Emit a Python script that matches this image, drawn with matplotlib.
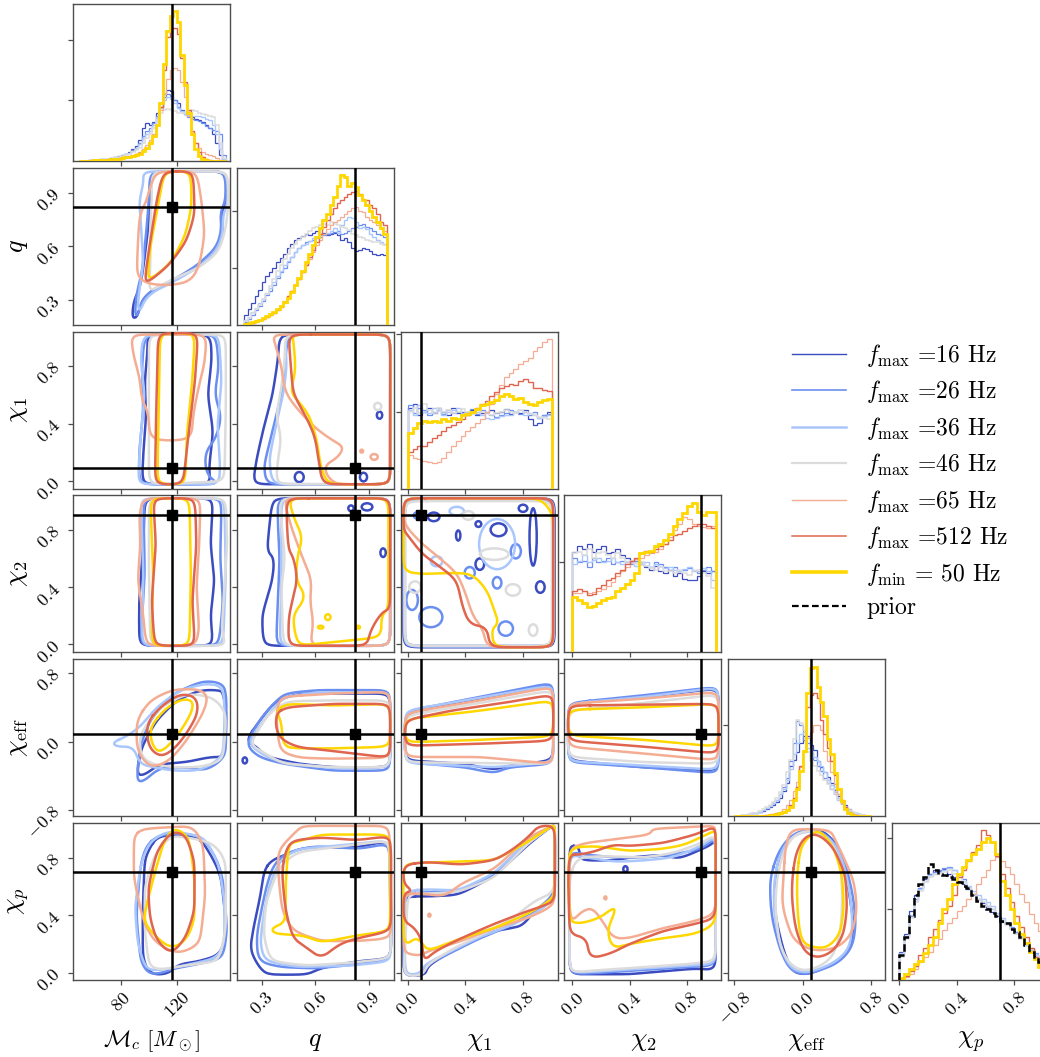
import numpy as np
import matplotlib.pyplot as plt
from matplotlib.lines import Line2D
from matplotlib.patches import Ellipse

plt.rcParams.update({
    "font.family": "serif",
    "font.serif": ["cmr10"],
    "mathtext.fontset": "cm",
    "axes.unicode_minus": False,
    "axes.formatter.use_mathtext": True,
})

# runs, in plotting/legend order
series_labels = [r"$f_{\rm max}$ =16 Hz", r"$f_{\rm max}$ =26 Hz", r"$f_{\rm max}$ =36 Hz",
                 r"$f_{\rm max}$ =46 Hz", r"$f_{\rm max}$ =65 Hz", r"$f_{\rm max}$ =512 Hz",
                 r"$f_{\rm min}$ = 50 Hz"]
series_colors = ["#3b4cc0", "#6b8ff0", "#aac7fd", "#dddcdc", "#f4ad92", "#e0654f", "#ffd700"]
hist_lw = [0.9, 0.9, 1.0, 1.1, 0.9, 1.0, 2.0]
legend_lw = [1.0, 1.2, 1.8, 1.6, 1.0, 1.1, 2.6]

axis_labels = [r"$\mathcal{M}_c\ [M_\odot]$", r"$q$", r"$\chi_1$", r"$\chi_2$",
               r"$\chi_{\rm eff}$", r"$\chi_p$"]
label_sizes = [16.5, 19, 19, 19, 19, 19]
axis_limits = [(45.7, 158.0), (0.16, 1.04), (-0.05, 1.04), (-0.056, 1.04), (-0.87, 0.96), (-0.05, 1.04)]
axis_ticks = [[80, 120], [0.3, 0.6, 0.9], [0.0, 0.4, 0.8], [0.0, 0.4, 0.8], [-0.8, 0.0, 0.8], [0.0, 0.4, 0.8]]
axis_ticklabels = [["80", "120"], ["0.3", "0.6", "0.9"], ["0.0", "0.4", "0.8"],
                   ["0.0", "0.4", "0.8"], ["-0.8", "0.0", "0.8"], ["0.0", "0.4", "0.8"]]
density_ticks = [[1, 2], [1, 2], [1, 2], [1], [1], [1, 2]]
truths = [116.4, 0.82, 0.09, 0.90, 0.09, 0.70]

# ---- 1D marginals (density), one list per run ----
mc_edges = np.linspace(50, 155, 43)
mc_hist = [
    [0, 0, 0.005, 0.01, 0.01, 0.015, 0.02, 0.03, 0.04, 0.05, 0.06, 0.08, 0.1, 0.12, 0.15, 0.2, 0.25, 0.35, 0.55, 0.62,
     0.6, 0.65, 0.8, 0.95, 1.1, 1.18, 1.15, 1.0, 0.95, 0.85, 0.78, 0.75, 0.72, 0.7, 0.68, 0.65, 0.6, 0.55, 0.45, 0.3, 0.1, 0.02],
    [0, 0, 0.005, 0.01, 0.01, 0.015, 0.02, 0.03, 0.04, 0.05, 0.06, 0.07, 0.09, 0.11, 0.14, 0.18, 0.22, 0.3, 0.42, 0.5,
     0.55, 0.62, 0.75, 0.9, 1.05, 1.1, 1.08, 1.0, 0.9, 0.82, 0.78, 0.72, 0.7, 0.68, 0.66, 0.62, 0.58, 0.55, 0.52, 0.5, 0.45, 0.1],
    [0, 0, 0.005, 0.01, 0.015, 0.02, 0.025, 0.03, 0.04, 0.05, 0.06, 0.07, 0.09, 0.11, 0.13, 0.17, 0.21, 0.28, 0.38, 0.45,
     0.5, 0.6, 0.72, 0.88, 1.0, 1.05, 1.02, 0.95, 0.88, 0.82, 0.78, 0.76, 0.75, 0.75, 0.74, 0.72, 0.7, 0.68, 0.6, 0.45, 0.2, 0.03],
    [0, 0, 0.005, 0.01, 0.015, 0.02, 0.025, 0.03, 0.04, 0.05, 0.06, 0.07, 0.08, 0.1, 0.12, 0.15, 0.18, 0.22, 0.3, 0.38,
     0.45, 0.55, 0.68, 0.8, 0.85, 0.86, 0.84, 0.82, 0.8, 0.8, 0.8, 0.82, 0.84, 0.83, 0.8, 0.78, 0.76, 0.74, 0.72, 0.6, 0.3, 0.05],
    [0, 0, 0.005, 0.01, 0.01, 0.015, 0.02, 0.02, 0.03, 0.03, 0.04, 0.05, 0.06, 0.07, 0.08, 0.1, 0.12, 0.15, 0.2, 0.26,
     0.35, 0.45, 0.6, 0.85, 1.1, 1.35, 1.5, 1.53, 1.5, 1.3, 1.05, 0.75, 0.45, 0.3, 0.22, 0.15, 0.12, 0.1, 0.08, 0.05, 0.02, 0],
    [0, 0, 0.005, 0.005, 0.01, 0.01, 0.015, 0.02, 0.02, 0.03, 0.03, 0.04, 0.05, 0.06, 0.07, 0.09, 0.11, 0.13, 0.17, 0.22,
     0.3, 0.42, 0.6, 0.9, 1.5, 2.05, 2.2, 2.2, 2.1, 1.7, 1.3, 0.85, 0.5, 0.3, 0.15, 0.07, 0.03, 0.01, 0, 0, 0, 0],
    [0, 0, 0.005, 0.005, 0.01, 0.01, 0.015, 0.02, 0.02, 0.03, 0.03, 0.04, 0.05, 0.06, 0.07, 0.08, 0.1, 0.12, 0.16, 0.22,
     0.3, 0.42, 0.6, 0.95, 1.6, 2.15, 2.4, 2.47, 2.3, 1.75, 1.25, 0.8, 0.45, 0.2, 0.08, 0.03, 0.01, 0, 0, 0, 0, 0],
]

q_edges = np.linspace(0.2, 1.0, 41)
q_hist = [
    [0.18, 0.28, 0.38, 0.5, 0.62, 0.75, 0.85, 0.92, 1.0, 1.1, 1.18, 1.25, 1.35, 1.42, 1.5, 1.52, 1.56, 1.6, 1.58, 1.62,
     1.65, 1.6, 1.62, 1.58, 1.6, 1.62, 1.58, 1.5, 1.52, 1.45, 1.35, 1.3, 1.32, 1.35, 1.33, 1.3, 1.25, 1.22, 1.24, 1.22],
    [0.05, 0.1, 0.18, 0.26, 0.33, 0.42, 0.52, 0.6, 0.7, 0.82, 0.92, 1.0, 1.1, 1.2, 1.28, 1.35, 1.4, 1.45, 1.48, 1.5,
     1.52, 1.55, 1.58, 1.6, 1.62, 1.63, 1.65, 1.6, 1.62, 1.65, 1.7, 1.72, 1.75, 1.78, 1.72, 1.7, 1.65, 1.6, 1.58, 1.55],
    [0.08, 0.14, 0.22, 0.3, 0.38, 0.46, 0.56, 0.65, 0.75, 0.85, 0.95, 1.05, 1.12, 1.2, 1.28, 1.35, 1.4, 1.42, 1.48, 1.52,
     1.55, 1.58, 1.6, 1.62, 1.65, 1.7, 1.62, 1.75, 1.85, 1.9, 1.88, 1.8, 1.7, 1.72, 1.68, 1.6, 1.55, 1.5, 1.45, 1.42],
    [0.06, 0.12, 0.2, 0.28, 0.35, 0.45, 0.55, 0.68, 0.8, 0.95, 1.05, 1.15, 1.25, 1.35, 1.42, 1.5, 1.55, 1.6, 1.65, 1.7,
     1.72, 1.75, 1.78, 1.76, 1.8, 1.78, 1.75, 1.72, 1.7, 1.66, 1.6, 1.58, 1.55, 1.52, 1.5, 1.48, 1.45, 1.45, 1.42, 1.4],
    [0.01, 0.02, 0.04, 0.06, 0.08, 0.1, 0.13, 0.17, 0.21, 0.27, 0.33, 0.42, 0.5, 0.6, 0.7, 0.8, 0.92, 1.05, 1.15, 1.28,
     1.4, 1.5, 1.6, 1.68, 1.75, 1.8, 1.85, 1.9, 1.95, 2.0, 2.05, 2.07, 2.0, 1.98, 1.9, 1.85, 1.8, 1.75, 1.7, 1.65],
    [0.01, 0.02, 0.04, 0.06, 0.08, 0.1, 0.13, 0.17, 0.21, 0.26, 0.32, 0.4, 0.5, 0.6, 0.7, 0.8, 0.92, 1.05, 1.2, 1.32,
     1.45, 1.6, 1.72, 1.85, 1.95, 2.05, 2.15, 2.2, 2.25, 2.3, 2.33, 2.35, 2.3, 2.22, 2.2, 2.1, 2.05, 1.95, 1.8, 1.75],
    [0.02, 0.03, 0.05, 0.07, 0.09, 0.12, 0.15, 0.19, 0.22, 0.27, 0.33, 0.4, 0.48, 0.58, 0.7, 0.82, 0.95, 1.1, 1.25, 1.4,
     1.55, 1.7, 1.85, 1.95, 2.1, 2.25, 2.45, 2.63, 2.6, 2.45, 2.5, 2.42, 2.28, 2.2, 2.1, 2.0, 1.9, 1.8, 1.7, 1.6],
]

chi1_edges = np.linspace(0.0, 1.0, 31)
chi1_hist = [
    [1.05, 1.1, 0.95, 1.0, 1.05, 0.98, 1.02, 1.0, 0.95, 1.05, 0.98, 1.0, 0.97, 1.02, 0.95,
     0.98, 1.0, 1.02, 0.98, 1.0, 1.03, 0.97, 1.0, 0.98, 1.02, 0.9, 0.82, 0.85, 0.95, 1.0],
    [1.08, 0.98, 1.05, 1.02, 0.95, 1.0, 1.05, 0.97, 1.02, 0.98, 1.0, 0.95, 1.0, 1.03, 0.97,
     1.02, 0.98, 0.95, 0.93, 0.96, 0.98, 1.02, 1.0, 0.97, 1.0, 0.95, 1.0, 0.92, 0.95, 0.97],
    [1.02, 0.95, 1.08, 1.0, 0.98, 1.05, 1.02, 0.96, 1.0, 1.02, 1.05, 0.98, 0.95, 0.98, 1.0,
     0.96, 0.92, 0.9, 0.92, 0.94, 0.96, 0.95, 1.0, 1.02, 0.96, 0.98, 0.95, 0.92, 0.94, 0.96],
    [1.0, 1.04, 0.98, 1.1, 1.02, 0.98, 1.05, 1.0, 1.02, 0.98, 1.0, 1.03, 1.0, 0.97, 1.02,
     1.0, 0.98, 0.96, 0.98, 1.0, 1.02, 1.0, 0.98, 1.02, 1.0, 0.97, 0.95, 0.93, 0.92, 0.9],
    [0.44, 0.4, 0.38, 0.36, 0.34, 0.33, 0.35, 0.4, 0.48, 0.55, 0.62, 0.68, 0.75, 0.8, 0.85,
     0.9, 1.0, 1.1, 1.23, 1.35, 1.45, 1.5, 1.55, 1.62, 1.66, 1.7, 1.78, 1.84, 1.9, 1.94],
    [0.48, 0.52, 0.55, 0.55, 0.6, 0.66, 0.7, 0.75, 0.8, 0.83, 0.86, 0.9, 0.96, 1.0, 1.05,
     1.1, 1.14, 1.2, 1.25, 1.31, 1.33, 1.36, 1.35, 1.4, 1.42, 1.38, 1.31, 1.3, 1.28, 1.27],
    [0.72, 0.78, 0.85, 0.88, 0.86, 0.88, 0.87, 0.9, 0.88, 0.92, 0.9, 0.95, 0.97, 1.0, 1.03,
     1.08, 1.1, 1.12, 1.15, 1.2, 1.23, 1.2, 1.16, 1.18, 1.12, 1.1, 1.08, 1.12, 1.15, 1.16],
]

chi2_edges = np.linspace(0.0, 1.0, 31)
chi2_hist = [
    [1.12, 1.18, 1.15, 1.2, 1.12, 1.15, 1.18, 1.1, 1.12, 1.15, 1.08, 1.05, 1.0, 1.02, 0.98,
     0.95, 0.92, 0.96, 0.9, 0.88, 0.92, 0.85, 0.88, 0.82, 0.8, 0.8, 0.85, 0.9, 0.88, 0.9],
    [1.05, 1.0, 1.02, 0.95, 1.05, 1.0, 1.02, 1.05, 0.98, 1.0, 1.02, 1.0, 0.98, 1.02, 1.0,
     0.96, 0.95, 1.0, 0.98, 0.95, 0.92, 0.95, 0.9, 0.92, 0.94, 0.9, 0.88, 0.92, 0.95, 0.9],
    [0.98, 1.02, 1.08, 1.0, 1.03, 1.05, 1.0, 1.02, 1.05, 1.0, 0.98, 1.02, 1.0, 0.96, 0.98,
     1.0, 0.95, 0.98, 0.96, 0.94, 0.95, 0.92, 0.9, 0.93, 0.95, 0.92, 0.9, 0.94, 0.9, 0.8],
    [1.1, 1.12, 1.08, 1.15, 1.05, 1.1, 1.12, 1.08, 1.05, 1.1, 1.05, 1.0, 1.02, 0.98, 1.0,
     0.96, 0.94, 0.92, 0.95, 0.9, 0.9, 0.88, 0.92, 0.88, 0.86, 0.9, 0.92, 0.88, 0.85, 0.72],
    [0.66, 0.66, 0.68, 0.66, 0.67, 0.68, 0.7, 0.74, 0.78, 0.85, 0.9, 0.95, 1.02, 1.04, 1.05,
     1.08, 1.1, 1.12, 1.15, 1.2, 1.28, 1.36, 1.42, 1.5, 1.48, 1.42, 1.4, 1.39, 1.38, 1.4],
    [0.68, 0.7, 0.68, 0.64, 0.65, 0.72, 0.75, 0.8, 0.83, 0.88, 0.92, 0.98, 1.02, 1.05, 1.1,
     1.13, 1.12, 1.15, 1.18, 1.2, 1.25, 1.3, 1.32, 1.35, 1.38, 1.4, 1.42, 1.43, 1.4, 1.38],
    [0.61, 0.58, 0.55, 0.5, 0.52, 0.55, 0.58, 0.6, 0.62, 0.68, 0.72, 0.76, 0.8, 0.88, 1.1,
     1.12, 1.13, 1.18, 1.2, 1.25, 1.32, 1.4, 1.48, 1.55, 1.62, 1.66, 1.56, 1.52, 1.56, 1.56],
]

chieff_edges = np.linspace(-0.8, 0.8, 41)
chieff_hist = [
    [0, 0.005, 0.01, 0.01, 0.02, 0.03, 0.04, 0.05, 0.06, 0.08, 0.1, 0.12, 0.16, 0.2, 0.28, 0.36, 0.55, 0.62, 0.7, 0.8,
     0.88, 0.88, 0.78, 0.73, 0.6, 0.54, 0.48, 0.43, 0.36, 0.29, 0.22, 0.17, 0.12, 0.08, 0.05, 0.03, 0.02, 0.01, 0, 0],
    [0, 0.005, 0.01, 0.015, 0.02, 0.03, 0.04, 0.05, 0.07, 0.09, 0.11, 0.14, 0.18, 0.24, 0.32, 0.42, 0.6, 0.8, 1.04, 1.0,
     0.84, 0.8, 0.69, 0.62, 0.55, 0.5, 0.42, 0.36, 0.3, 0.24, 0.18, 0.13, 0.1, 0.07, 0.05, 0.03, 0.02, 0.01, 0, 0],
    [0, 0.005, 0.01, 0.015, 0.02, 0.03, 0.04, 0.05, 0.07, 0.09, 0.11, 0.14, 0.18, 0.24, 0.3, 0.4, 0.52, 0.68, 0.8, 0.9,
     0.92, 0.75, 0.72, 0.65, 0.6, 0.55, 0.48, 0.4, 0.34, 0.26, 0.2, 0.14, 0.1, 0.07, 0.05, 0.03, 0.02, 0.01, 0, 0],
    [0, 0.005, 0.01, 0.015, 0.02, 0.03, 0.04, 0.06, 0.08, 0.1, 0.12, 0.16, 0.2, 0.26, 0.34, 0.48, 0.62, 0.85, 1.05, 1.02,
     0.95, 0.7, 0.6, 0.55, 0.5, 0.45, 0.4, 0.35, 0.3, 0.24, 0.18, 0.13, 0.1, 0.07, 0.05, 0.03, 0.02, 0.01, 0, 0],
    [0, 0, 0, 0, 0, 0, 0, 0.005, 0.01, 0.01, 0.02, 0.02, 0.03, 0.05, 0.08, 0.12, 0.18, 0.28, 0.38, 0.54,
     0.7, 0.86, 0.92, 1.0, 1.0, 0.95, 0.72, 0.6, 0.48, 0.35, 0.24, 0.15, 0.08, 0.04, 0.02, 0.01, 0, 0, 0, 0],
    [0, 0, 0, 0, 0, 0, 0, 0, 0.005, 0.01, 0.01, 0.02, 0.03, 0.04, 0.05, 0.07, 0.12, 0.2, 0.32, 0.55,
     0.72, 1.2, 1.33, 1.35, 1.3, 1.05, 0.9, 0.75, 0.6, 0.45, 0.3, 0.18, 0.1, 0.05, 0.02, 0.01, 0, 0, 0, 0],
    [0, 0, 0, 0, 0, 0, 0, 0, 0, 0.005, 0.01, 0.01, 0.02, 0.03, 0.05, 0.07, 0.1, 0.18, 0.3, 0.5,
     0.72, 1.35, 1.62, 1.64, 1.42, 1.25, 1.1, 0.85, 0.68, 0.47, 0.3, 0.17, 0.08, 0.03, 0.01, 0, 0, 0, 0, 0],
]

chip_edges = np.linspace(0.0, 1.0, 31)
chip_hist = [
    [0.4, 0.65, 0.98, 1.2, 1.3, 1.42, 1.5, 1.55, 1.54, 1.56, 1.5, 1.45, 1.4, 1.35, 1.28,
     1.22, 1.15, 1.08, 1.02, 0.96, 0.9, 0.82, 0.8, 0.74, 0.68, 0.6, 0.5, 0.42, 0.35, 0.28],
    [0.35, 0.6, 0.9, 1.15, 1.3, 1.45, 1.5, 1.52, 1.55, 1.58, 1.6, 1.55, 1.5, 1.42, 1.3,
     1.2, 1.15, 1.1, 1.05, 1.0, 0.92, 0.85, 0.8, 0.75, 0.68, 0.6, 0.52, 0.45, 0.38, 0.3],
    [0.38, 0.62, 0.92, 1.12, 1.28, 1.4, 1.48, 1.5, 1.52, 1.55, 1.58, 1.55, 1.48, 1.4, 1.32,
     1.25, 1.2, 1.15, 1.1, 1.05, 0.95, 0.88, 0.8, 0.72, 0.66, 0.6, 0.5, 0.44, 0.36, 0.28],
    [0.32, 0.58, 0.88, 1.1, 1.25, 1.38, 1.45, 1.5, 1.5, 1.52, 1.55, 1.5, 1.45, 1.38, 1.3,
     1.22, 1.15, 1.1, 1.05, 1.0, 0.92, 0.85, 0.78, 0.72, 0.65, 0.58, 0.5, 0.42, 0.34, 0.26],
    [0.02, 0.04, 0.08, 0.15, 0.25, 0.32, 0.4, 0.5, 0.58, 0.7, 0.8, 0.88, 0.98, 1.05, 1.15,
     1.21, 1.35, 1.45, 1.55, 1.7, 1.73, 1.68, 1.6, 1.5, 1.35, 1.21, 1.1, 0.93, 0.8, 0.69],
    [0.02, 0.05, 0.12, 0.2, 0.35, 0.45, 0.6, 0.72, 0.85, 0.95, 1.05, 1.2, 1.45, 1.55, 1.68,
     1.8, 1.9, 2.11, 2.05, 1.95, 1.75, 1.5, 1.3, 1.1, 0.9, 0.75, 0.6, 0.45, 0.32, 0.2],
    [0.03, 0.08, 0.15, 0.22, 0.27, 0.38, 0.5, 0.6, 0.8, 1.0, 1.15, 1.35, 1.5, 1.59, 1.7,
     1.78, 1.85, 1.95, 2.01, 1.95, 1.78, 1.4, 1.2, 1.0, 0.8, 0.65, 0.52, 0.4, 0.3, 0.18],
]
chip_prior = [0.35, 0.6, 0.9, 1.2, 1.35, 1.45, 1.64, 1.55, 1.5, 1.48, 1.45, 1.43, 1.38, 1.33, 1.3,
              1.2, 1.12, 1.05, 1.0, 0.95, 0.9, 0.83, 0.8, 0.72, 0.68, 0.6, 0.5, 0.4, 0.33, 0.25]

# ---- 90% credible contours, (x, y) outlines per run ----
q_mc = [
    [(101.9, 1.02), (155.5, 1.02), (156, 0.855), (152, 0.80), (153, 0.685), (150, 0.59), (136.4, 0.50), (117, 0.405),
     (105.5, 0.37), (96, 0.31), (93.6, 0.255), (91.2, 0.20), (88, 0.20), (89, 0.29), (93.6, 0.37), (96, 0.48), (99, 0.67), (101, 0.855)],
    [(100.7, 1.02), (154.5, 1.02), (155, 0.86), (151, 0.79), (152, 0.69), (148, 0.59), (134, 0.49), (115, 0.40),
     (103, 0.36), (95, 0.30), (92, 0.21), (90, 0.22), (91, 0.33), (95, 0.45), (98, 0.67), (100, 0.86)],
    [(96, 1.02), (156, 1.02), (156.5, 0.84), (153, 0.78), (153, 0.68), (149, 0.58), (135, 0.48), (115, 0.39),
     (104, 0.35), (97, 0.30), (94, 0.24), (92, 0.26), (93, 0.35), (96, 0.5), (94, 0.76), (93, 0.85), (96, 0.95)],
    [(102, 1.02), (156.5, 1.02), (157, 0.85), (155, 0.70), (150, 0.57), (136, 0.48), (118, 0.42), (106, 0.37),
     (100, 0.35), (101, 0.48), (101, 0.7), (102, 0.86)],
    [(105.5, 1.02), (134.1, 1.02), (137.6, 0.855), (139.9, 0.67), (136.4, 0.50), (130.2, 0.405), (115, 0.38),
     (98.3, 0.39), (91.2, 0.44), (92.4, 0.67), (93.6, 0.78), (98.3, 0.855), (100.7, 0.93)],
    [(110.2, 1.02), (131.7, 1.02), (132.8, 0.78), (126.9, 0.63), (115, 0.50), (100.7, 0.405), (97, 0.41),
     (99.5, 0.555), (105.5, 0.855)],
    [(111, 1.02), (130, 1.02), (130.5, 0.82), (126, 0.66), (116, 0.51), (104, 0.43), (99, 0.42), (101, 0.6), (107, 0.85)],
]
chi1_mc = [
    [(99, 1.02), (144, 1.02), (145, 0.85), (142, 0.6), (146, 0.35), (143, 0.1), (144, -0.02), (95, -0.02),
     (96, 0.2), (98, 0.45), (97, 0.7), (99, 0.9)],
    [(97, 1.02), (148, 1.02), (150, 0.8), (147, 0.6), (152, 0.45), (148, 0.3), (140, 0.2), (141, 0.05),
     (150, -0.02), (93, -0.02), (93, 0.2), (96, 0.5), (95, 0.8)],
    [(96, 1.02), (150, 1.02), (152, 0.7), (149, 0.4), (151, 0.1), (150, -0.02), (92, -0.02), (94, 0.3), (97, 0.6), (94, 0.85)],
    [(100, 1.02), (155, 1.02), (155, 0.5), (154, 0.0), (100, -0.02), (100, 0.5)],
    [(87.2, 1.02), (141.2, 1.02), (140, 0.83), (135.2, 0.64), (131.6, 0.46), (130.5, 0.30), (115, 0.28),
     (100.7, 0.30), (99.5, 0.48), (94.8, 0.57), (93.6, 0.71), (88.8, 0.88)],
    [(106.6, 1.03), (135.2, 1.03), (133, 0.7), (128, 0.3), (124.5, -0.02), (104.3, -0.02), (105, 0.4), (106, 0.8)],
    [(108, 1.03), (133, 1.03), (131, 0.7), (127, 0.3), (126, -0.02), (106, -0.02), (107, 0.5)],
]
chi1_q = [
    [(0.40, 1.02), (1.02, 1.02), (1.02, -0.02), (0.25, -0.02), (0.27, 0.15), (0.31, 0.37), (0.36, 0.6), (0.39, 0.84)],
    [(0.45, 1.02), (1.02, 1.02), (1.02, -0.02), (0.33, -0.02), (0.31, 0.1), (0.35, 0.3), (0.39, 0.5), (0.42, 0.65), (0.43, 0.85)],
    [(0.43, 1.02), (1.02, 1.02), (1.02, -0.02), (0.36, -0.02), (0.34, 0.15), (0.39, 0.45), (0.42, 0.6), (0.44, 0.8)],
    [(0.43, 1.02), (1.02, 1.02), (1.02, -0.02), (0.38, -0.02), (0.39, 0.15), (0.41, 0.3), (0.38, 0.45), (0.41, 0.65), (0.43, 0.85)],
    [(0.36, 1.02), (1.02, 1.02), (1.02, -0.02), (0.7, -0.02), (0.64, 0.1), (0.73, 0.17), (0.76, 0.24), (0.69, 0.29),
     (0.60, 0.37), (0.5, 0.5), (0.43, 0.62), (0.41, 0.8), (0.38, 0.93)],
    [(0.45, 1.02), (1.02, 1.02), (1.02, -0.02), (0.64, -0.02), (0.62, 0.14), (0.6, 0.3), (0.56, 0.42), (0.475, 0.61), (0.46, 0.84)],
    [(0.47, 1.02), (1.02, 1.02), (1.02, -0.02), (0.67, -0.02), (0.63, 0.1), (0.61, 0.28), (0.57, 0.45), (0.51, 0.55),
     (0.46, 0.62), (0.49, 0.77), (0.48, 0.95)],
]
chi2_mc = [
    [(97, 1.02), (146, 1.02), (144, 0.7), (147, 0.45), (144, 0.2), (146, -0.01), (93, -0.01), (93, 0.3), (96, 0.7)],
    [(96, 1.02), (152, 1.02), (151, 0.6), (153, 0.3), (150, -0.01), (94, -0.01), (97, 0.5)],
    [(94, 1.02), (154, 1.02), (155, 0.5), (153, -0.01), (95, -0.01), (96, 0.5)],
    [(100, 1.02), (155, 1.02), (156, 0.7), (154, 0.4), (152, 0.1), (155, -0.01), (101, -0.01), (100, 0.5)],
    [(96, 1.02), (137, 1.02), (136, 0.7), (134, 0.4), (136, 0.1), (133, -0.01), (98, -0.01), (96, 0.2), (92, 0.45), (94, 0.7), (93, 0.9)],
    [(103, 1.02), (133, 1.02), (134, 0.7), (131, 0.3), (133, -0.01), (104, -0.01), (102, 0.3), (105, 0.7)],
    [(101, 1.02), (129, 1.02), (130, 0.5), (129, -0.01), (102, -0.01), (103, 0.5)],
]
chi2_q = [
    [(0.36, 1.02), (1.02, 1.02), (1.02, -0.01), (0.31, -0.01), (0.30, 0.2), (0.36, 0.45), (0.37, 0.6), (0.33, 0.65), (0.34, 0.8)],
    [(0.39, 1.02), (1.02, 1.02), (1.02, -0.01), (0.38, -0.01), (0.39, 0.3), (0.40, 0.6), (0.39, 0.85)],
    [(0.41, 1.02), (1.02, 1.02), (1.02, -0.01), (0.40, -0.01), (0.41, 0.4), (0.41, 0.8)],
    [(0.40, 1.02), (1.02, 1.02), (1.02, -0.01), (0.42, -0.01), (0.41, 0.4), (0.43, 0.6), (0.41, 0.85)],
    [(0.42, 1.02), (1.02, 1.02), (1.02, -0.01), (0.57, -0.01), (0.59, 0.15), (0.57, 0.3), (0.58, 0.45), (0.53, 0.6), (0.47, 0.8)],
    [(0.44, 1.02), (1.02, 1.02), (1.02, 0.25), (0.97, 0.22), (0.91, 0.1), (0.89, -0.01), (0.45, -0.01), (0.45, 0.18),
     (0.47, 0.3), (0.50, 0.45), (0.48, 0.6), (0.45, 0.66), (0.44, 0.85)],
    [(0.45, 1.02), (1.01, 1.02), (1.01, 0.25), (0.97, 0.2), (0.97, 0.05), (0.5, -0.01), (0.47, 0.2), (0.55, 0.33),
     (0.49, 0.45), (0.50, 0.62), (0.53, 0.75), (0.48, 0.88)],
]
chi2_chi1 = [
    [(-0.03, 1.02), (1.02, 1.02), (1.02, -0.02), (-0.03, -0.02)],
    [(-0.02, 1.01), (1.01, 1.01), (1.01, -0.01), (-0.02, -0.01)],
    [(-0.025, 1.015), (1.015, 1.015), (1.015, -0.015), (-0.025, -0.015)],
    [(-0.02, 1.0), (1.0, 1.0), (1.0, -0.01), (-0.02, -0.01)],
    [(-0.03, 1.02), (1.01, 1.02), (1.01, -0.02), (0.55, -0.02), (0.52, 0.11), (0.45, 0.2), (0.40, 0.36), (0.34, 0.5),
     (0.2, 0.62), (0.1, 0.7), (-0.03, 0.84)],
    [(-0.03, 1.02), (1.01, 1.02), (1.01, -0.02), (0.57, -0.02), (0.55, 0.12), (0.43, 0.14), (0.38, 0.26), (0.34, 0.45),
     (0.2, 0.56), (0.1, 0.63), (0.0, 0.76), (-0.03, 0.8)],
    [(-0.03, 1.02), (0.92, 1.02), (1.01, 0.91), (1.01, -0.02), (0.60, -0.02), (0.58, 0.1), (0.63, 0.15), (0.6, 0.24),
     (0.55, 0.38), (0.45, 0.49), (0.32, 0.5), (0.1, 0.49), (-0.03, 0.51)],
]
chieff_mc = [
    [(91.2, -0.37), (94.8, -0.06), (105.5, 0.25), (119.8, 0.48), (136.4, 0.6), (150.7, 0.6), (153.1, 0.56), (155.5, 0.33),
     (154.3, -0.18), (143.5, -0.18), (126.9, -0.24), (107.9, -0.26), (95.9, -0.40)],
    [(91.2, -0.45), (93.6, -0.06), (100.7, 0.25), (117.4, 0.56), (138.8, 0.71), (153.1, 0.68), (155.5, 0.52), (155, -0.18),
     (141.1, -0.34), (126.9, -0.30), (107.9, -0.30), (95.9, -0.47)],
    [(74.1, -0.01), (83.9, 0.06), (93.6, 0.17), (105.5, 0.40), (122.1, 0.6), (141.2, 0.68), (153.1, 0.64), (154.3, 0.33),
     (153.1, -0.18), (136.4, -0.34), (117.4, -0.34), (103.1, -0.30), (93.6, -0.26), (88.8, -0.06), (76.8, -0.06)],
    [(93.6, 0.09), (107.9, 0.40), (126.9, 0.56), (145.9, 0.52), (155.5, 0.33), (153.1, -0.22), (136.4, -0.30),
     (117.4, -0.30), (100.7, -0.26), (93.6, -0.14)],
    [(91.2, 0.25), (100.7, 0.48), (117.4, 0.61), (136.4, 0.61), (142.3, 0.52), (138.8, 0.33), (126.9, 0.01), (115, -0.22),
     (103.1, -0.30), (95.9, -0.22), (91.2, -0.06)],
    [(98.3, 0.21), (107.9, 0.40), (122.2, 0.56), (134, 0.52), (135.2, 0.33), (126.9, 0.09), (117.4, -0.10), (107.9, -0.18), (99.5, -0.06)],
    [(100.7, 0.17), (112.6, 0.40), (124.5, 0.50), (131.7, 0.47), (130.5, 0.33), (119.8, 0.05), (107.9, -0.14), (101.9, -0.03)],
]
chieff_q = [
    [(0.21, 0.01), (0.29, 0.25), (0.38, 0.48), (0.51, 0.56), (1.02, 0.56), (1.02, -0.30), (0.70, -0.30), (0.51, -0.26),
     (0.33, -0.18), (0.27, -0.06)],
    [(0.21, -0.03), (0.30, 0.29), (0.42, 0.56), (0.61, 0.6), (1.02, 0.6), (1.02, -0.34), (0.70, -0.34), (0.42, -0.26), (0.28, -0.18)],
    [(0.22, -0.01), (0.32, 0.27), (0.42, 0.52), (0.6, 0.57), (1.02, 0.58), (1.02, -0.3), (0.7, -0.31), (0.42, -0.25), (0.30, -0.15)],
    [(0.23, -0.03), (0.34, 0.33), (0.44, 0.47), (0.7, 0.48), (1.02, 0.48), (1.02, -0.30), (0.7, -0.30), (0.42, -0.26), (0.32, -0.14)],
    [(0.40, 0.52), (0.70, 0.56), (1.02, 0.58), (1.02, -0.19), (0.70, -0.2), (0.51, -0.19), (0.40, -0.11), (0.38, 0.29)],
    [(0.38, 0.33), (0.44, 0.40), (0.70, 0.44), (1.02, 0.44), (1.02, -0.19), (0.70, -0.11), (0.51, -0.07), (0.42, 0.01), (0.38, 0.13)],
    [(0.38, 0.36), (0.44, 0.44), (0.70, 0.42), (1.02, 0.44), (1.02, -0.06), (0.70, -0.08), (0.51, -0.08), (0.42, -0.06), (0.41, 0.23)],
]
chieff_chi1 = [
    [(-0.02, 0.33), (0.5, 0.5), (1.01, 0.67), (1.01, -0.22), (0.7, -0.28), (0.6, -0.33), (0.4, -0.26), (-0.02, -0.22)],
    [(-0.02, 0.35), (0.5, 0.52), (1.01, 0.69), (1.01, -0.26), (0.7, -0.3), (0.6, -0.37), (0.4, -0.3), (-0.02, -0.24)],
    [(-0.02, 0.36), (0.5, 0.51), (1.01, 0.66), (1.01, -0.24), (0.6, -0.3), (-0.02, -0.25)],
    [(-0.02, 0.3), (0.5, 0.45), (1.01, 0.6), (1.01, -0.26), (-0.02, -0.24)],
    [(-0.02, 0.33), (0.5, 0.48), (1.01, 0.64), (1.01, -0.26), (0.5, -0.18), (-0.02, -0.18)],
    [(-0.02, 0.25), (0.3, 0.36), (0.7, 0.46), (1.01, 0.55), (1.01, 0.01), (0.6, -0.02), (0.2, -0.04), (-0.02, -0.05)],
    [(-0.02, 0.26), (0.5, 0.36), (1.01, 0.48), (1.01, 0.06), (0.5, 0.02), (-0.02, -0.01)],
]
chieff_chi2 = [
    [(-0.03, 0.44), (0.5, 0.52), (1.02, 0.62), (1.02, -0.34), (0.5, -0.3), (-0.03, -0.22)],
    [(-0.03, 0.45), (0.5, 0.54), (1.02, 0.64), (1.02, -0.37), (0.5, -0.3), (-0.03, -0.24)],
    [(-0.03, 0.44), (0.5, 0.52), (1.02, 0.63), (1.02, -0.33), (0.5, -0.28), (-0.03, -0.23)],
    [(-0.03, 0.36), (0.5, 0.45), (1.02, 0.55), (1.02, -0.26), (0.5, -0.24), (-0.03, -0.18)],
    [(-0.03, 0.44), (0.5, 0.5), (1.02, 0.58), (1.02, -0.22), (0.5, -0.14), (-0.03, -0.06)],
    [(-0.03, 0.42), (0.5, 0.43), (1.02, 0.44), (1.02, -0.14), (0.5, -0.06), (-0.03, 0.01)],
    [(-0.03, 0.37), (0.5, 0.40), (1.02, 0.44), (1.02, -0.06), (0.5, 0.02), (-0.03, 0.07)],
]
chip_mc = [
    [(100.7, 0.87), (105.8, 0.94), (116, 0.96), (136.4, 0.94), (146.6, 0.78), (151.7, 0.66), (155.6, 0.31), (151.7, 0.13),
     (136.4, 0.08), (121.1, 0.06), (113.4, -0.01), (100.7, -0.01), (95.6, 0.10), (95.6, 0.43), (96.9, 0.78)],
    [(98, 0.88), (106, 0.95), (118, 0.97), (138, 0.95), (148, 0.8), (153, 0.65), (156, 0.3), (153, 0.1), (135, 0.06),
     (118, 0.03), (110, 0.0), (100, -0.01), (94, 0.08), (91, 0.4), (94, 0.75)],
    [(100, 0.90), (110, 0.97), (120, 0.98), (140, 0.94), (150, 0.75), (154, 0.5), (154, 0.2), (148, 0.1), (125, 0.05),
     (110, 0.02), (98, 0.02), (92, 0.2), (90, 0.45), (94, 0.75)],
    [(104, 0.82), (115, 0.95), (128, 0.94), (146, 0.90), (155, 0.78), (155, 0.3), (150, 0.08), (125, 0.05), (108, 0.02),
     (100, 0.05), (97, 0.3), (97, 0.6)],
    [(89.2, 0.95), (95.6, 1.0), (131.3, 1.02), (139, 0.89), (140.3, 0.54), (136.5, 0.20), (121.1, 0.13), (105.8, 0.20),
     (98.1, 0.31), (94.3, 0.43), (89.2, 0.66)],
    [(99.4, 0.59), (105.8, 0.85), (116, 0.98), (126.2, 0.96), (132.6, 0.78), (132.6, 0.43), (126.2, 0.24), (116, 0.13),
     (105.8, 0.22), (100.7, 0.38)],
    [(95.6, 0.36), (103.2, 0.66), (110.9, 0.92), (118.5, 1.01), (128.7, 0.94), (132.6, 0.66), (132.6, 0.36), (126.2, 0.22),
     (116, 0.17), (105.8, 0.24)],
]
chip_q = [
    [(0.313, 0.71), (0.353, 0.78), (0.434, 0.82), (0.534, 0.87), (0.835, 0.87), (1.015, 0.92), (1.025, 0.43), (1.025, 0.10),
     (0.835, 0.08), (0.634, 0.034), (0.555, -0.013), (0.313, -0.013), (0.233, 0.15), (0.253, 0.31), (0.293, 0.54)],
    [(0.33, 0.62), (0.37, 0.76), (0.45, 0.84), (0.6, 0.88), (0.85, 0.86), (1.015, 0.90), (1.025, 0.1), (0.85, 0.06),
     (0.6, 0.03), (0.4, 0.04), (0.28, 0.08), (0.27, 0.25), (0.30, 0.45)],
    [(0.34, 0.6), (0.40, 0.78), (0.5, 0.86), (0.7, 0.88), (1.015, 0.92), (1.025, 0.08), (0.8, 0.05), (0.5, 0.04),
     (0.32, 0.08), (0.29, 0.2), (0.31, 0.4)],
    [(0.34, 0.55), (0.40, 0.74), (0.5, 0.84), (0.7, 0.87), (1.015, 0.92), (1.025, 0.1), (0.8, 0.07), (0.55, 0.05),
     (0.35, 0.08), (0.31, 0.25), (0.32, 0.45)],
    [(0.394, 0.66), (0.39, 0.85), (0.49, 0.98), (0.53, 1.02), (1.015, 1.02), (1.025, 0.54), (1.025, 0.24), (0.835, 0.22),
     (0.634, 0.22), (0.474, 0.29), (0.414, 0.43)],
    [(0.414, 0.71), (0.434, 0.85), (0.474, 0.92), (0.634, 0.94), (0.835, 0.92), (1.015, 0.95), (1.025, 0.84), (1.025, 0.29),
     (0.835, 0.24), (0.735, 0.20), (0.634, 0.10), (0.555, 0.17), (0.474, 0.24), (0.434, 0.43), (0.42, 0.59)],
    [(0.45, 0.90), (0.53, 0.92), (0.63, 0.96), (1.02, 0.96), (1.02, 0.29), (0.835, 0.26), (0.634, 0.21), (0.534, 0.26),
     (0.373, 0.27), (0.353, 0.31), (0.434, 0.35), (0.434, 0.62)],
]
chip_chi1 = [
    [(-0.03, 0.53), (0.14, 0.53), (0.35, 0.54), (0.60, 0.67), (0.835, 0.89), (1.0, 1.02), (1.021, 1.02), (1.021, 0.5),
     (0.95, 0.48), (0.88, 0.43), (0.80, 0.33), (0.72, 0.31), (0.60, 0.29), (0.37, 0.19), (0.14, 0.05), (0.12, -0.02), (-0.03, -0.02)],
    [(-0.03, 0.55), (0.14, 0.56), (0.35, 0.56), (0.60, 0.68), (0.835, 0.9), (1.0, 1.02), (1.021, 1.02), (1.021, 0.55),
     (0.90, 0.44), (0.72, 0.33), (0.5, 0.24), (0.3, 0.14), (0.12, 0.05), (0.08, -0.02), (-0.03, -0.02)],
    [(0.0, 0.57), (0.14, 0.58), (0.35, 0.57), (0.60, 0.69), (0.835, 0.92), (1.0, 1.02), (1.021, 1.02), (1.021, 0.52),
     (0.90, 0.42), (0.72, 0.33), (0.5, 0.25), (0.3, 0.15), (0.12, 0.06), (0.08, -0.01), (-0.02, -0.01), (-0.02, 0.5)],
    [(0.0, 0.55), (0.14, 0.55), (0.35, 0.56), (0.6, 0.66), (0.835, 0.90), (1.0, 1.02), (1.021, 1.02), (1.021, 0.56),
     (0.88, 0.50), (0.72, 0.37), (0.5, 0.26), (0.3, 0.16), (0.14, 0.06), (0.10, -0.02), (-0.03, -0.02)],
    [(-0.03, 0.55), (0.1, 0.55), (0.26, 0.53), (0.37, 0.62), (0.60, 0.72), (0.835, 0.94), (1.0, 1.02), (1.021, 1.02),
     (1.021, 0.47), (0.835, 0.38), (0.60, 0.31), (0.37, 0.22), (0.14, 0.15), (0.09, 0.12), (0.0, 0.13), (-0.03, 0.17)],
    [(-0.03, 0.75), (0.14, 0.77), (0.37, 0.75), (0.60, 0.78), (0.72, 0.85), (0.835, 0.94), (0.905, 1.02), (1.021, 1.02),
     (1.021, 0.5), (0.93, 0.46), (0.835, 0.43), (0.60, 0.34), (0.37, 0.24), (0.19, 0.15), (0.11, 0.08), (0.10, 0.22),
     (0.05, 0.31), (-0.03, 0.36), (-0.03, 0.55), (0.03, 0.57), (-0.03, 0.62)],
    [(-0.03, 0.76), (0.60, 0.78), (0.835, 0.91), (1.0, 1.02), (1.021, 1.02), (1.021, 0.52), (0.835, 0.41), (0.60, 0.31),
     (0.37, 0.24), (0.14, 0.15), (0.09, 0.22), (0.05, 0.24), (0.0, 0.2), (-0.03, 0.24)],
]
chip_chi2 = [
    [(-0.02, 0.89), (0.05, 0.87), (0.05, 0.78), (0.282, 0.78), (0.397, 0.80), (0.63, 0.82), (0.745, 0.79), (0.977, 0.89),
     (1.0, 0.94), (1.0, 0.02), (0.861, 0.03), (0.63, 0.01), (0.397, -0.01), (0.166, -0.01), (-0.02, -0.01)],
    [(-0.02, 0.84), (0.1, 0.82), (0.3, 0.80), (0.5, 0.80), (0.7, 0.82), (0.9, 0.86), (1.0, 0.94), (1.0, 0.05), (0.8, 0.04),
     (0.5, 0.02), (0.2, 0.0), (-0.02, -0.01)],
    [(-0.02, 0.82), (0.1, 0.80), (0.3, 0.77), (0.5, 0.78), (0.7, 0.80), (0.9, 0.88), (1.0, 0.95), (1.0, 0.06), (0.8, 0.05),
     (0.5, 0.03), (0.2, 0.01), (-0.02, 0.0)],
    [(-0.02, 0.66), (0.03, 0.8), (0.2, 0.81), (0.5, 0.80), (0.7, 0.83), (0.9, 0.90), (1.0, 0.96), (1.0, 0.08), (0.8, 0.06),
     (0.5, 0.04), (0.2, 0.02), (-0.02, 0.0)],
    [(-0.02, 0.86), (0.08, 0.9), (0.397, 0.94), (0.54, 0.96), (0.56, 1.0), (0.977, 1.02), (1.0, 1.0), (1.0, 0.41),
     (0.861, 0.36), (0.63, 0.31), (0.397, 0.24), (0.282, 0.24), (0.21, 0.36), (0.14, 0.45), (0.07, 0.43), (0.0, 0.36), (-0.02, 0.43)],
    [(-0.02, 0.82), (0.05, 0.82), (0.166, 0.845), (0.282, 0.89), (0.397, 0.88), (0.63, 0.90), (0.861, 0.96), (0.977, 1.01),
     (1.0, 0.98), (1.0, 0.38), (0.861, 0.34), (0.63, 0.29), (0.397, 0.20), (0.26, 0.13), (0.12, 0.10), (0.10, 0.24),
     (-0.02, 0.27), (-0.03, 0.66)],
    [(-0.02, 0.87), (0.166, 0.88), (0.397, 0.845), (0.63, 0.86), (0.79, 0.89), (0.977, 0.98), (1.0, 0.98), (1.0, 0.34),
     (0.861, 0.27), (0.63, 0.24), (0.397, 0.20), (0.282, 0.17), (0.24, 0.29), (0.30, 0.43), (0.282, 0.45), (0.19, 0.38),
     (0.05, 0.34), (-0.02, 0.36), (-0.03, 0.66)],
]
chip_chieff = [
    [(-0.321, 0.64), (-0.282, 0.80), (-0.184, 0.92), (-0.028, 0.985), (0.205, 0.996), (0.36, 0.92), (0.477, 0.8), (0.536, 0.57),
     (0.594, 0.34), (0.555, 0.17), (0.4, 0.08), (0.166, 0.01), (0.01, -0.013), (-0.126, 0.01), (-0.224, 0.15), (-0.301, 0.34), (-0.34, 0.50)],
    [(-0.38, 0.66), (-0.3, 0.82), (-0.18, 0.93), (-0.02, 0.99), (0.2, 0.99), (0.38, 0.9), (0.5, 0.75), (0.58, 0.55), (0.62, 0.35),
     (0.58, 0.18), (0.42, 0.07), (0.17, 0.01), (0.01, -0.013), (-0.15, 0.02), (-0.26, 0.15), (-0.35, 0.35), (-0.38, 0.5)],
    [(-0.33, 0.66), (-0.27, 0.82), (-0.16, 0.93), (0.0, 0.98), (0.2, 0.98), (0.37, 0.9), (0.48, 0.75), (0.55, 0.55), (0.58, 0.35),
     (0.55, 0.18), (0.4, 0.08), (0.17, 0.02), (0.01, 0.0), (-0.14, 0.03), (-0.25, 0.16), (-0.32, 0.35), (-0.34, 0.5)],
    [(-0.30, 0.66), (-0.24, 0.82), (-0.12, 0.95), (0.05, 0.99), (0.22, 0.97), (0.36, 0.88), (0.44, 0.75), (0.46, 0.55), (0.45, 0.35),
     (0.4, 0.18), (0.3, 0.08), (0.1, 0.02), (-0.05, 0.02), (-0.18, 0.08), (-0.27, 0.2), (-0.31, 0.38), (-0.32, 0.5)],
    [(-0.224, 0.68), (-0.204, 0.87), (-0.145, 0.99), (0.049, 1.0), (0.322, 0.99), (0.38, 0.92), (0.477, 0.8), (0.594, 0.64),
     (0.633, 0.45), (0.575, 0.27), (0.4, 0.17), (0.127, 0.15), (-0.106, 0.22), (-0.204, 0.38), (-0.243, 0.50)],
    [(-0.126, 0.64), (-0.087, 0.82), (0.01, 0.94), (0.166, 0.97), (0.36, 0.87), (0.497, 0.68), (0.516, 0.45), (0.477, 0.27),
     (0.36, 0.15), (0.166, 0.10), (0.01, 0.15), (-0.087, 0.31), (-0.126, 0.50)],
    [(-0.067, 0.68), (-0.028, 0.87), (0.088, 0.96), (0.205, 0.99), (0.36, 0.87), (0.458, 0.68), (0.477, 0.45), (0.438, 0.27),
     (0.283, 0.17), (0.088, 0.18), (-0.009, 0.22), (-0.048, 0.33), (-0.067, 0.50)],
]

# isolated islands of the noisier contours: (run, x centre, y centre, width, height)
chi1_q_islands = [(0, 0.51, 0.03, 0.05, 0.07), (0, 0.87, 0.03, 0.04, 0.06), (0, 0.96, 0.46, 0.03, 0.05),
                  (3, 0.95, 0.52, 0.04, 0.05), (4, 0.93, 0.17, 0.04, 0.04), (4, 0.86, 0.21, 0.015, 0.02)]
chi2_q_islands = [(0, 0.89, 0.96, 0.06, 0.05), (0, 0.98, 0.64, 0.03, 0.06), (0, 0.80, 0.95, 0.03, 0.04),
                  (6, 0.63, 0.12, 0.03, 0.02), (6, 0.84, 0.12, 0.02, 0.02), (6, 0.67, 0.19, 0.03, 0.04)]
chi2_chi1_islands = [
    (0, 0.63, 0.80, 0.11, 0.09), (0, 0.50, 0.56, 0.06, 0.08), (0, 0.35, 0.76, 0.03, 0.07), (0, 0.87, 0.75, 0.05, 0.40),
    (0, 0.92, 0.40, 0.06, 0.08), (0, 0.18, 0.89, 0.08, 0.06), (0, 0.49, 0.84, 0.04, 0.04), (0, 0.80, 0.95, 0.06, 0.05),
    (1, 0.16, 0.19, 0.16, 0.14), (1, 0.03, 0.31, 0.08, 0.14), (1, 0.62, 0.43, 0.06, 0.08), (1, 0.43, 0.50, 0.07, 0.08),
    (1, 0.68, 0.11, 0.10, 0.10), (1, 0.08, 0.90, 0.08, 0.05), (1, 0.75, 0.65, 0.07, 0.10),
    (2, 0.62, 0.70, 0.25, 0.35), (2, 0.34, 0.93, 0.10, 0.06), (2, 0.20, 0.58, 0.08, 0.07),
    (3, 0.60, 0.63, 0.20, 0.08), (3, 0.73, 0.38, 0.10, 0.08), (3, 0.87, 0.10, 0.06, 0.08), (3, 0.42, 0.90, 0.08, 0.06),
    (3, 0.05, 0.40, 0.08, 0.08),
]
chieff_q_islands = [(0, 0.205, -0.22, 0.025, 0.07)]
chip_chi1_islands = [(4, 0.15, 0.40, 0.015, 0.02)]
chip_chi2_islands = [(0, 0.37, 0.72, 0.03, 0.04), (4, 0.23, 0.52, 0.015, 0.02)]

hist_sets = [(mc_edges, mc_hist), (q_edges, q_hist), (chi1_edges, chi1_hist),
             (chi2_edges, chi2_hist), (chieff_edges, chieff_hist), (chip_edges, chip_hist)]
contour_sets = {(1, 0): q_mc, (2, 0): chi1_mc, (2, 1): chi1_q, (3, 0): chi2_mc, (3, 1): chi2_q, (3, 2): chi2_chi1,
                (4, 0): chieff_mc, (4, 1): chieff_q, (4, 2): chieff_chi1, (4, 3): chieff_chi2,
                (5, 0): chip_mc, (5, 1): chip_q, (5, 2): chip_chi1, (5, 3): chip_chi2, (5, 4): chip_chieff}
island_sets = {(2, 1): chi1_q_islands, (3, 1): chi2_q_islands, (3, 2): chi2_chi1_islands,
               (4, 1): chieff_q_islands, (5, 2): chip_chi1_islands, (5, 3): chip_chi2_islands}


def round_outline(points, xlim, ylim, rounds=4, cut=0.035):
    # corner cutting in axes units; long straight runs stay straight
    sx, sy = xlim[1] - xlim[0], ylim[1] - ylim[0]
    p = (np.asarray(points, dtype=float) - [xlim[0], ylim[0]]) / [sx, sy]
    for _ in range(rounds):
        nxt = np.roll(p, -1, axis=0)
        d = nxt - p
        length = np.hypot(d[:, 0], d[:, 1])[:, None]
        f = np.minimum(0.25, cut / np.maximum(length, 1e-9))
        p = np.stack([p + f * d, nxt - f * d], axis=1).reshape(-1, 2)
    p = np.vstack([p, p[:1]])
    return p * [sx, sy] + [xlim[0], ylim[0]]


W, H = 1040, 1057
fig = plt.figure(figsize=(W / 100, H / 100), dpi=100)

left0, top0, step, size = 73, 4, 163.8, 157
contour_order = [0, 1, 2, 3, 4, 6, 5]
n = len(axis_labels)

for i in range(n):
    for j in range(i + 1):
        ax = fig.add_axes([(left0 + step * j) / W, 1 - (top0 + step * i + size) / H, size / W, size / H])
        for s in ax.spines.values():
            s.set_color("0.3")
            s.set_linewidth(1.0)
        ax.tick_params(direction="out", length=3.5, width=0.9, color="0.3", labelsize=13)
        ax.set_xlim(axis_limits[j])
        ax.set_xticks(axis_ticks[j])

        if i == j:
            edges, hists = hist_sets[i]
            for k in range(len(hists)):
                ax.stairs(hists[k], edges, color=series_colors[k], lw=hist_lw[k], zorder=2 + k * 0.1)
            top = max(max(h) for h in hists)
            if i == n - 1:
                ax.stairs(chip_prior, edges, color="black", lw=1.8, ls=(0, (3, 1.5)), zorder=3)
                top = max(top, max(chip_prior))
            ax.set_ylim(0, 1.05 * top)
            ax.set_yticks(density_ticks[i])
            ax.set_yticklabels([])
            ax.axvline(truths[j], color="black", lw=1.8, zorder=5)
        else:
            ax.set_ylim(axis_limits[i])
            ax.set_yticks(axis_ticks[i])
            for k in contour_order:
                outline = round_outline(contour_sets[(i, j)][k], axis_limits[j], axis_limits[i])
                ax.plot(outline[:, 0], outline[:, 1], color=series_colors[k], lw=1.8,
                        solid_joinstyle="round", zorder=2 + contour_order.index(k) * 0.1)
            for k, cx, cy, w, h in island_sets.get((i, j), []):
                ax.add_patch(Ellipse((cx, cy), w, h, fill=False, ec=series_colors[k], lw=1.8, zorder=2))
            ax.axvline(truths[j], color="black", lw=1.8, zorder=5)
            ax.axhline(truths[i], color="black", lw=1.8, zorder=5)
            ax.plot(truths[j], truths[i], "s", color="black", ms=6.5, zorder=6)
            if j == 0:
                ax.set_yticklabels(["$%s$" % t for t in axis_ticklabels[i]], rotation=45)
                ax.set_ylabel(axis_labels[i], fontsize=label_sizes[i], va="center")
                ax.yaxis.set_label_coords(-0.35, 0.5)
            else:
                ax.set_yticklabels([])

        if i == n - 1:
            ax.set_xticklabels(["$%s$" % t for t in axis_ticklabels[j]], rotation=45)
            ax.set_xlabel(axis_labels[j], fontsize=label_sizes[j], va="center")
            ax.xaxis.set_label_coords(0.5, -0.39)
        else:
            ax.set_xticklabels([])

handles = [Line2D([], [], color=c, lw=lw) for c, lw in zip(series_colors, legend_lw)]
handles.append(Line2D([], [], color="black", lw=1.6, ls=(0, (3, 1.5))))
fig.legend(handles, series_labels + ["prior"], loc="upper left", bbox_to_anchor=(792 / W, 1 - 342 / H),
           frameon=False, fontsize=17, handlelength=2.3, handletextpad=0.85, labelspacing=0.4,
           borderpad=0, borderaxespad=0)

fig.savefig("out.png", dpi=100)
